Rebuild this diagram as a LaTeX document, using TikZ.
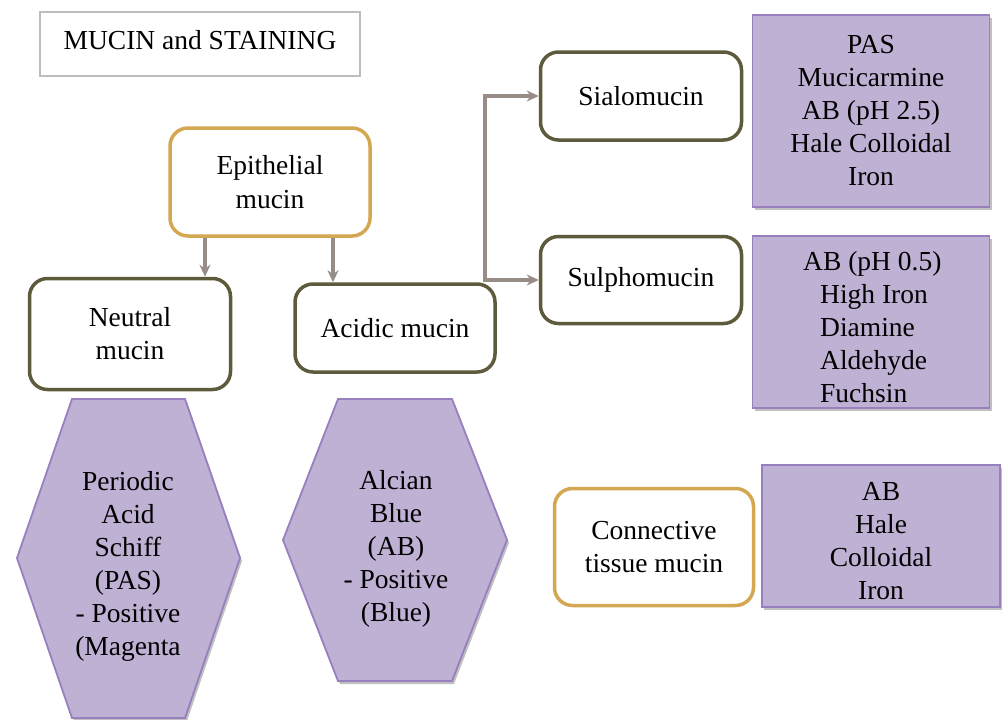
\documentclass[tikz,border=0pt]{standalone}
\usepackage{fontspec}
\setmainfont{Liberation Serif}
\usetikzlibrary{arrows.meta,shadows}
\definecolor{cOlive}{HTML}{5E5A3C}
\definecolor{cGold}{HTML}{D4A752}
\definecolor{cPurple}{HTML}{BFB1D4}
\definecolor{cPurpleLine}{HTML}{9880BE}
\definecolor{cArrow}{HTML}{978C86}
\definecolor{cTitle}{HTML}{BDBDBD}
\begin{document}
\begin{tikzpicture}[x=1pt,y=-1pt,
  font=\fontsize{27.5}{33}\selectfont,
  box/.style={rectangle, rounded corners=18pt, line width=3.5pt, fill=white, align=center, inner sep=0pt},
  darkbox/.style={box, draw=cOlive},
  goldbox/.style={box, draw=cGold},
  stainshadow/.style={drop shadow={shadow xshift=2pt, shadow yshift=-3pt, opacity=.35, fill=black!70}},
  stainbox/.style={rectangle, draw=cPurpleLine, line width=1.8pt, fill=cPurple, align=center, inner sep=0pt, stainshadow},
  stainhex/.style={draw=cPurpleLine, line width=1.8pt, fill=cPurple, stainshadow},
  label/.style={align=center, inner sep=0pt},
  arr/.style={draw=cArrow, line width=3.5pt, -{Stealth[length=12pt,width=11pt]}}]
\useasboundingbox (0,0) rectangle (1002,720);
\fill[white] (0,0) rectangle (1002,720);

% title
\node[rectangle, draw=cTitle, line width=1.5pt, minimum width=320pt, minimum height=64pt, inner sep=0pt] (title) at (200,44) {};
\node[label] (titletext) at (200,40) {MUCIN and STAINING};

% mucin boxes
\node[goldbox, minimum width=200pt, minimum height=108pt] (epi) at (270,182) {Epithelial\\[1pt]mucin};
\node[darkbox, minimum width=201pt, minimum height=111pt] (neutral) at (130,334) {Neutral\\mucin};
\node[darkbox, minimum width=200pt, minimum height=88pt] (acidic) at (395,328) {Acidic mucin};
\node[darkbox, minimum width=201pt, minimum height=88pt] (sialo) at (641,96) {Sialomucin};
\node[darkbox, minimum width=201pt, minimum height=87pt] (sulpho) at (641,280) {Sulphomucin};
\node[goldbox, minimum width=199pt, minimum height=117pt] (conn) at (654,547) {Connective\\tissue mucin};

% staining boxes
\node[stainbox, minimum width=237pt, minimum height=192pt] (sialostain) at (871,111) {PAS\\Mucicarmine\\AB (pH 2.5)\\Hale Colloidal\\Iron};
\node[stainbox, minimum width=237pt, minimum height=172pt] (sulphostain) at (871,322) {};
\node[label, align=left, anchor=west] (sulphotext) at (820,327) {\hspace*{-17pt}AB (pH 0.5)\\High Iron\\Diamine\\Aldehyde\\Fuchsin};
\node[stainbox, minimum width=238pt, minimum height=142pt] (connstain) at (881,536) {};
\node[label] (connstaintext) at (881,541) {AB\\Hale\\Colloidal\\Iron};

% hexagons
\path[stainhex] (72,399) -- (185,399) -- (240,558) -- (185,718) -- (72,718) -- (17,558) -- cycle;
\node[label] (pastext) at (128,566) {Periodic\\Acid\\Schiff\\(PAS)\\- Positive\\(Magenta};
\path[stainhex] (338,399) -- (452,399) -- (507,540) -- (452,681) -- (338,681) -- (283,540) -- cycle;
\node[label] (abtext) at (396,549) {Alcian\\Blue\\(AB)\\- Positive\\(Blue)};

% connectors
\draw[arr] ([xshift=-65pt]epi.south) -- ([xshift=75pt]neutral.north);
\draw[arr] ([xshift=63pt]epi.south) -- ([xshift=-62pt]acidic.north);
\draw[arr] ([xshift=-12pt,yshift=4pt]acidic.north east) |- (sialo.west);
\draw[arr] ([xshift=-12pt,yshift=4pt]acidic.north east) |- (sulpho.west);
\end{tikzpicture}
\end{document}
